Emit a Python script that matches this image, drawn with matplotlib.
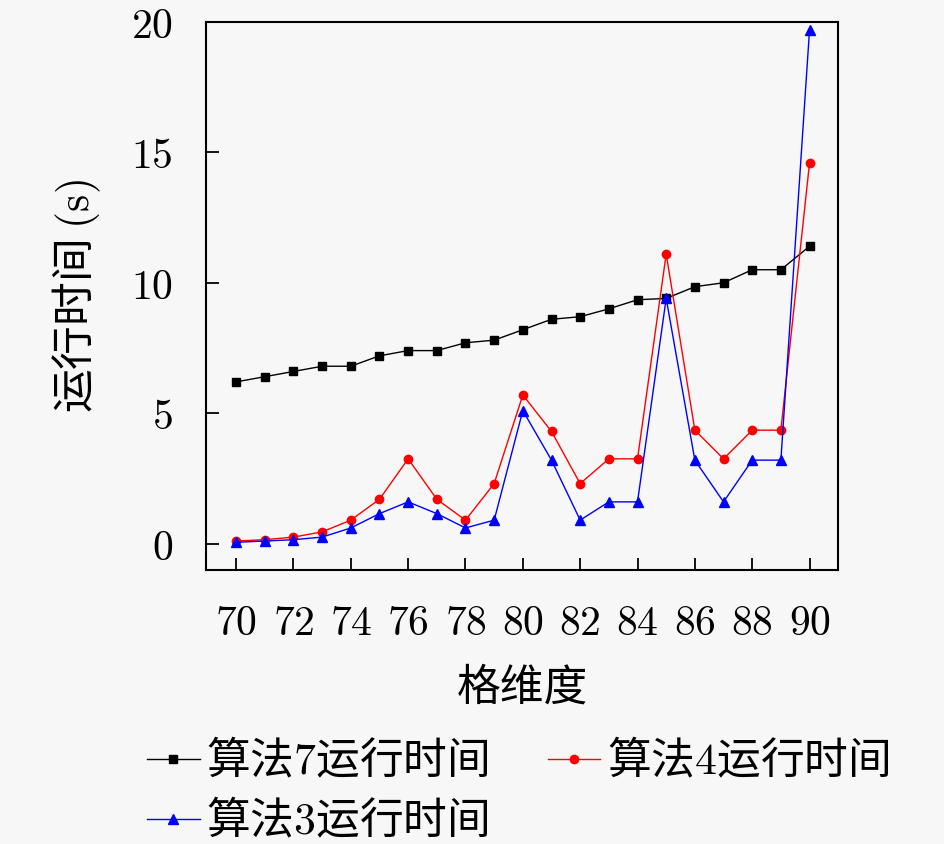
import matplotlib
matplotlib.use("Agg")
import matplotlib.pyplot as plt

plt.rcParams['font.family'] = ['Noto Sans CJK SC', 'DejaVu Sans']
plt.rcParams['mathtext.fontset'] = 'cm'

# 数据
dims = [70, 71, 72, 73, 74, 75, 76, 77, 78, 79, 80,
        81, 82, 83, 84, 85, 86, 87, 88, 89, 90]
t_alg7 = [6.2, 6.4, 6.6, 6.8, 6.8, 7.2, 7.4, 7.4, 7.7, 7.8, 8.2,
          8.6, 8.7, 9.0, 9.35, 9.4, 9.85, 10.0, 10.5, 10.5, 11.4]
t_alg4 = [0.1, 0.15, 0.25, 0.45, 0.9, 1.7, 3.25, 1.7, 0.9, 2.3, 5.7,
          4.3, 2.3, 3.25, 3.25, 11.1, 4.35, 3.25, 4.35, 4.35, 14.6]
t_alg3 = [0.05, 0.1, 0.15, 0.25, 0.6, 1.15, 1.6, 1.15, 0.6, 0.9, 5.1,
          3.2, 0.9, 1.6, 1.6, 9.4, 3.2, 1.6, 3.2, 3.2, 19.7]
labels = ['算法$7$运行时间', '算法$4$运行时间', '算法$3$运行时间']
xticks = [70, 72, 74, 76, 78, 80, 82, 84, 86, 88, 90]
yticks = [0, 5, 10, 15, 20]

bg = '#f7f7f7'
fig = plt.figure(figsize=(9.45, 8.44), dpi=100, facecolor=bg)
ax = fig.add_axes([0.218, 0.325, 0.669, 0.649], facecolor=bg)

l7, = ax.plot(dims, t_alg7, color='black', lw=1.0, marker='s', ms=5.5, label=labels[0])
l4, = ax.plot(dims, t_alg4, color='red', lw=1.0, marker='o', ms=6, label=labels[1])
l3, = ax.plot(dims, t_alg3, color='blue', lw=1.0, marker='^', ms=6.5, label=labels[2])

ax.set_xlim(68.95, 91.0)
ax.set_ylim(-1.0, 20.0)
ax.set_xticks(xticks)
ax.set_xticklabels(['$%d$' % v for v in xticks])
ax.set_yticks(yticks)
ax.set_yticklabels(['$%d$' % v for v in yticks])
ax.tick_params(direction='in', length=9, width=1.3, labelsize=30, pad=24)

for s in ax.spines.values():
    s.set_linewidth(1.5)

ax.set_xlabel('格维度', fontsize=31.5, labelpad=15)
ax.set_ylabel('运行时间 $(\\mathrm{s})$', fontsize=31.5, labelpad=20)

# 按行排列图例: 第一行 7、4, 第二行 3
fig.legend([l7, l3, l4], [labels[0], labels[2], labels[1]],
           loc='lower left', bbox_to_anchor=(0.128, -0.031), ncol=2,
           frameon=False, fontsize=31.5, handlelength=1.2,
           handletextpad=0.15, columnspacing=1.35, labelspacing=0.3,
           borderaxespad=0.2)

fig.savefig('out.png', dpi=100, facecolor=bg)
